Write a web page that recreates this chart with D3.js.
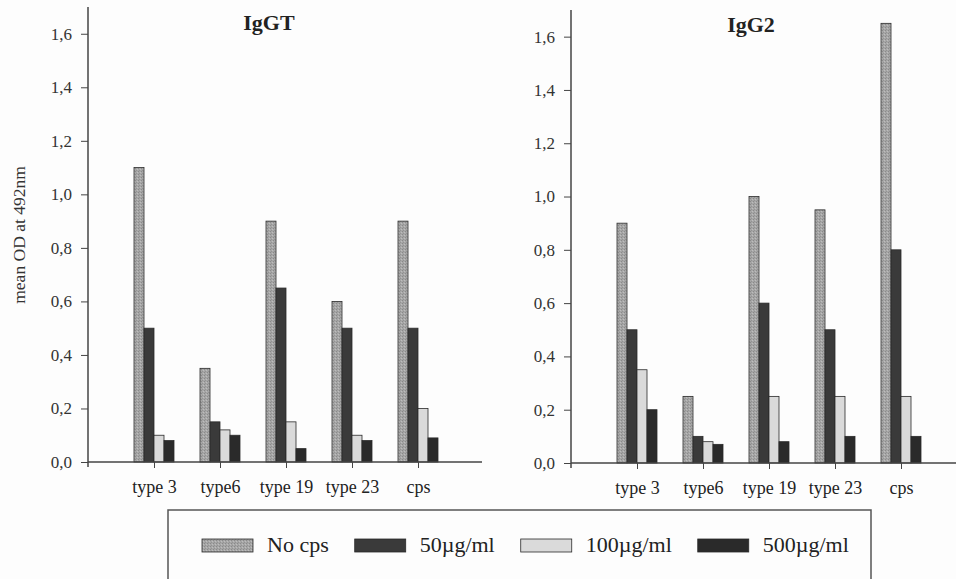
<!DOCTYPE html>
<html>
<head>
<meta charset="utf-8">
<script src="https://cdn.jsdelivr.net/npm/d3@7"></script>
<style>
  html, body { margin: 0; padding: 0; background: #fdfdfd; }
  svg { display: block; font-family: "Liberation Serif", "Times New Roman", serif; }
</style>
</head>
<body>
<svg id="chart" width="956" height="579"></svg>
<script>
// ---- data ----
const categories = ["type 3", "type6", "type 19", "type 23", "cps"];
const seriesNames = ["No cps", "50\u00b5g/ml", "100\u00b5g/ml", "500\u00b5g/ml"];
const yTicks = [0, 0.2, 0.4, 0.6, 0.8, 1.0, 1.2, 1.4, 1.6];

const iggtNoCps = [1.10, 0.35, 0.90, 0.60, 0.90];
const iggt50    = [0.50, 0.15, 0.65, 0.50, 0.50];
const iggt100   = [0.10, 0.12, 0.15, 0.10, 0.20];
const iggt500   = [0.08, 0.10, 0.05, 0.08, 0.09];

const igg2NoCps = [0.90, 0.25, 1.00, 0.95, 1.65];
const igg250    = [0.50, 0.10, 0.60, 0.50, 0.80];
const igg2100   = [0.35, 0.08, 0.25, 0.25, 0.25];
const igg2500   = [0.20, 0.07, 0.08, 0.10, 0.10];

const yLabel = "mean OD at 492nm";

// ---- styles ----
const fills = ["url(#stipple)", "#3a3a3a", "#dadada", "#2a2a2a"];
const svg = d3.select("#chart");
svg.append("rect").attr("width", 956).attr("height", 579).attr("fill", "#fdfdfd");

const defs = svg.append("defs");
const pat = defs.append("pattern").attr("id", "stipple")
  .attr("width", 3).attr("height", 3).attr("patternUnits", "userSpaceOnUse");
pat.append("rect").attr("width", 3).attr("height", 3).attr("fill", "#a6a6a6");
pat.append("rect").attr("x", 0).attr("y", 0).attr("width", 1).attr("height", 1).attr("fill", "#8a8a8a");
pat.append("rect").attr("x", 2).attr("y", 1).attr("width", 1).attr("height", 1).attr("fill", "#bdbdbd");
pat.append("rect").attr("x", 1).attr("y", 2).attr("width", 1).attr("height", 1).attr("fill", "#939393");

const fmt = v => d3.format(".1f")(v).replace(".", ",");

function panel(opts) {
  const { axisX, yZero, yTop, xEnd, title, titleX, titleY, data } = opts;
  const g = svg.append("g");
  const y = d3.scaleLinear().domain([0, 1.7]).range([yZero, yTop]);
  const step = 66;
  const x = d3.scalePoint().domain(categories)
    .range([axisX + step, axisX + step * categories.length]);
  const inner = d3.scaleBand().domain(seriesNames).range([-20, 20]).padding(0);

  // bars
  seriesNames.forEach((s, si) => {
    g.selectAll(null).data(data[si]).enter().append("rect")
      .attr("x", (d, i) => x(categories[i]) + inner(s))
      .attr("y", d => y(d))
      .attr("width", inner.bandwidth())
      .attr("height", d => y(0) - y(d))
      .attr("fill", fills[si])
      .attr("stroke", "#2a2a2a")
      .attr("stroke-width", 0.8);
  });

  // y axis
  const ya = d3.axisLeft(y).tickValues(yTicks).tickFormat(fmt).tickSize(7).tickPadding(9);
  const yg = g.append("g").attr("transform", `translate(${axisX},0)`).call(ya);
  yg.select(".domain").remove();
  yg.selectAll("line").attr("stroke", "#444");
  yg.selectAll("text").attr("font-size", 17).attr("fill", "#333")
    .attr("font-family", "Liberation Serif, serif");
  g.append("line").attr("x1", axisX).attr("x2", axisX)
    .attr("y1", y(1.7)).attr("y2", yZero + 5)
    .attr("stroke", "#444").attr("stroke-width", 1.5);

  // x axis
  const xa = d3.axisBottom(x).tickSize(6).tickPadding(12);
  const xg = g.append("g").attr("transform", `translate(0,${yZero})`).call(xa);
  xg.select(".domain").remove();
  xg.selectAll("line").attr("stroke", "#444");
  xg.selectAll("text").attr("font-size", 18).attr("fill", "#222")
    .attr("font-family", "Liberation Serif, serif");
  g.append("line").attr("x1", axisX).attr("x2", xEnd)
    .attr("y1", yZero).attr("y2", yZero)
    .attr("stroke", "#444").attr("stroke-width", 1.5);

  // title
  g.append("text").attr("x", titleX).attr("y", titleY)
    .attr("text-anchor", "middle").attr("font-weight", "bold")
    .attr("font-size", 22).attr("fill", "#222").text(title);
}

panel({ axisX: 88, yZero: 462, yTop: 7, xEnd: 482, title: "IgGT", titleX: 269, titleY: 30,
  data: [iggtNoCps, iggt50, iggt100, iggt500] });
panel({ axisX: 571, yZero: 463, yTop: 10, xEnd: 956, title: "IgG2", titleX: 751, titleY: 32,
  data: [igg2NoCps, igg250, igg2100, igg2500] });

// y label
svg.append("text")
  .attr("transform", "translate(25,235) rotate(-90)")
  .attr("text-anchor", "middle").attr("font-size", 17.5).attr("fill", "#333")
  .text(yLabel);

// legend
svg.append("rect").attr("x", 168).attr("y", 510).attr("width", 703).attr("height", 100)
  .attr("fill", "none").attr("stroke", "#555").attr("stroke-width", 1.5);
let lx = 202;
seriesNames.forEach((s, si) => {
  svg.append("rect").attr("x", lx).attr("y", 539).attr("width", 51).attr("height", 13)
    .attr("fill", fills[si]).attr("stroke", "#2a2a2a").attr("stroke-width", 0.8);
  const t = svg.append("text").attr("x", lx + 65).attr("y", 552)
    .attr("font-size", 22).attr("fill", "#222").text(s);
  lx = lx + 65 + t.node().getComputedTextLength() + 26;
});
</script>
</body>
</html>
